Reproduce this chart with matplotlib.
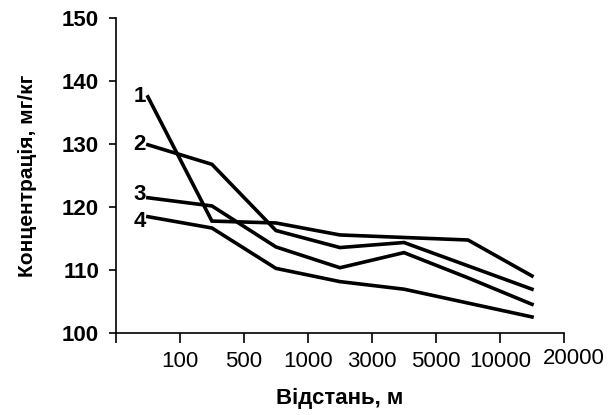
import matplotlib
matplotlib.use("Agg")
import matplotlib.pyplot as plt
import matplotlib.transforms as mtransforms

# Data
distance_labels = ["100", "500", "1000", "3000", "5000", "10000", "20000"]
series_names = ["1", "2", "3", "4"]
series_1 = [137.5, 117.8, 117.5, 115.6, 115.2, 114.8, 109.1]
series_2 = [129.9, 126.8, 116.3, 113.6, 114.4, 110.7, 107.0]
series_3 = [121.5, 120.2, 113.7, 110.4, 112.8, 108.8, 104.6]
series_4 = [118.5, 116.7, 110.3, 108.2, 107.0, 104.8, 102.6]
all_series = [series_1, series_2, series_3, series_4]

plt.rcParams['font.family'] = ['Liberation Sans', 'DejaVu Sans']

fig = plt.figure(figsize=(6.1, 4.15), dpi=100)
ax = fig.add_axes([0.190, 0.1968, 0.7346, 0.7598])

xs = [i + 0.5 for i in range(len(distance_labels))]
label_offsets = [(-1.5, 0), (-1.5, 0), (-1.5, 2), (-1.5, -3.5)]
for name, ys, off in zip(series_names, all_series, label_offsets):
    ax.plot(xs, ys, color='black', lw=2.6, solid_joinstyle='miter')
    ax.annotate(name, xy=(xs[0], ys[0]), xytext=off, textcoords='offset points',
                ha='right', va='center', fontsize=16, fontweight='bold')

ax.set_xlim(0, len(distance_labels))
ax.set_ylim(100, 150)
ax.set_xticks(range(len(distance_labels) + 1))
ax.set_xticklabels([""] + distance_labels, fontsize=16)
ax.set_yticks(range(100, 151, 10))
ax.set_yticklabels([str(v) for v in range(100, 151, 10)], fontsize=16, fontweight='bold')

for s in ['top', 'right']:
    ax.spines[s].set_visible(False)
for s in ['left', 'bottom']:
    ax.spines[s].set_linewidth(1.2)
ax.tick_params(axis='y', direction='out', length=5, width=1.2, pad=7, colors='black')
ax.tick_params(axis='x', direction='out', length=7.5, width=1.2, pad=5, colors='black')

# last x label sits slightly right/up in the reference
lbl = ax.get_xticklabels()[-1]
lbl.set_transform(lbl.get_transform() + mtransforms.ScaledTranslation(10/100, 3/100, fig.dpi_scale_trans))

ax.set_xlabel("Відстань, м", fontsize=16, fontweight='semibold', labelpad=12)
ax.set_ylabel("Концентрація, мг/кг", fontsize=15, fontweight='bold', labelpad=18)

fig.savefig("out.png", dpi=100)
